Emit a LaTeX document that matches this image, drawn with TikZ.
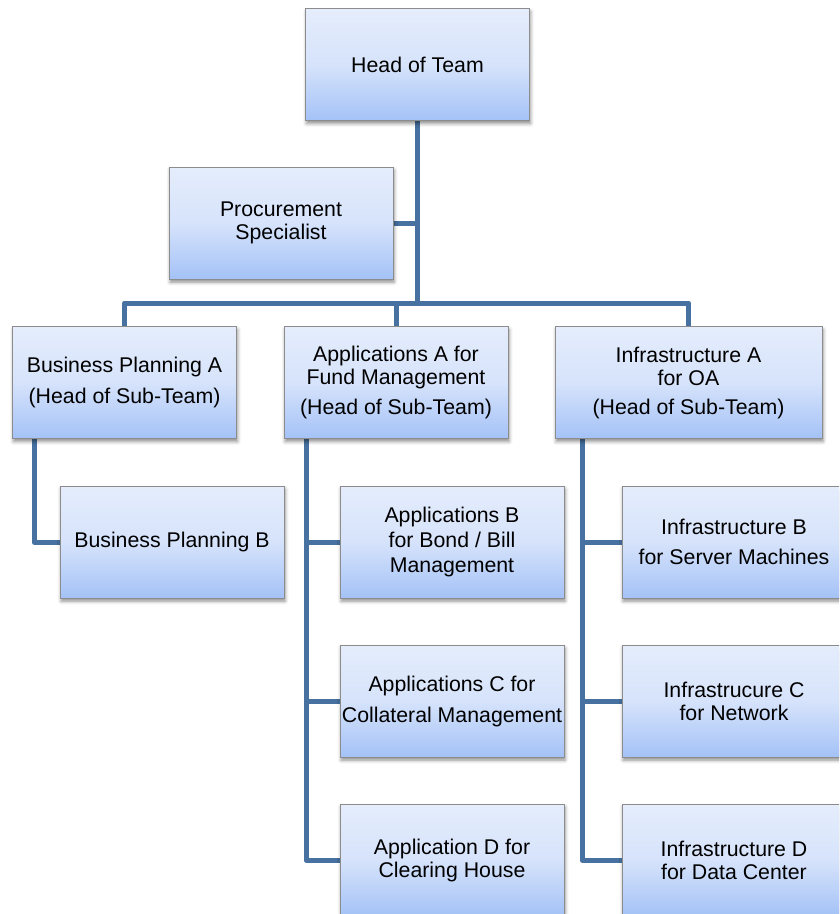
\documentclass[tikz,border=0pt]{standalone}
\usepackage{fontspec}
\setmainfont{Liberation Sans}
\usetikzlibrary{shadows.blur,backgrounds}

\definecolor{linkblue}{RGB}{70,113,160}
\definecolor{boxtop}{RGB}{229,237,252}
\definecolor{boxbottom}{RGB}{164,194,247}
\definecolor{boxedge}{RGB}{140,140,140}

\tikzset{
  orgbox/.style={
    rectangle, draw=boxedge, line width=0.9pt,
    top color=boxtop, bottom color=boxbottom, middle color={rgb,255:red,214;green,227;blue,251},
    minimum width=224pt, minimum height=112pt, inner sep=0pt,
    align=center, text=black,
    font=\fontsize{21.3}{23}\selectfont,
    blur shadow={shadow xshift=1pt, shadow yshift=-3pt,
                 shadow blur radius=3.5pt, shadow opacity=45}
  },
  wide/.style={minimum width=267pt},
  link/.style={draw=linkblue, line width=5pt, line join=round}
}

\begin{document}
\begin{tikzpicture}[x=1pt, y=-1pt]
  \useasboundingbox (0,0) rectangle (839,914);
  \clip (0,0) rectangle (839,914);

  % top of the hierarchy
  \node[orgbox] (head) at (417.5,64.5) {Head of Team};
  \node[orgbox] (proc) at (281,223) {Procurement\\Specialist};

  % sub-team heads
  \node[orgbox] (bpa)  at (124.5,382.5) {Business Planning A\\[8pt](Head of Sub-Team)};
  \node[orgbox] (appa) at (396,382.5) {Applications A for\\Fund Management\\[7pt](Head of Sub-Team)};
  \node[orgbox,wide] (infa) at (688.5,382.5) {Infrastructure A\\for OA\\[6pt](Head of Sub-Team)};

  % members
  \node[orgbox] (bpb)  at (172,542) {Business Planning B};
  \node[orgbox] (appb) at (452,542) {Applications B\\[2pt]for Bond / Bill\\[2pt]Management};
  \node[orgbox] (appc) at (452,701) {Applications C for\\[8pt]Collateral Management};
  \node[orgbox] (appd) at (452,860) {Application D for\\Clearing House};
  \node[orgbox] (infb) at (734,542) {Infrastructure B\\[7pt]for Server Machines};
  \node[orgbox] (infc) at (734,701) {Infrastrucure C\\for Network};
  \node[orgbox] (infd) at (734,860) {Infrastructure D\\for Data Center};

  % connector junctions
  \coordinate (trunk) at (417.5,303);
  \coordinate (bpv)   at (34,0);
  \coordinate (apv)   at (306,0);
  \coordinate (inv)   at (582,0);

  \begin{scope}[on background layer]
    \draw[link] (head.south) -- (trunk);
    \draw[link] (proc.east) -- (proc.east -| trunk);
    \draw[link] (bpa.north) -- (bpa.north |- trunk) -- (infa.north |- trunk) -- (infa.north);
    \draw[link] (appa.north) -- (appa.north |- trunk);

    \draw[link] (bpa.south -| bpv) |- (bpb.west);

    \draw[link] (appa.south -| apv) |- (appd.west);
    \draw[link] (appb.west) -- (appb.west -| apv);
    \draw[link] (appc.west) -- (appc.west -| apv);

    \draw[link] (infa.south -| inv) |- (infd.west);
    \draw[link] (infb.west) -- (infb.west -| inv);
    \draw[link] (infc.west) -- (infc.west -| inv);
  \end{scope}
\end{tikzpicture}
\end{document}
